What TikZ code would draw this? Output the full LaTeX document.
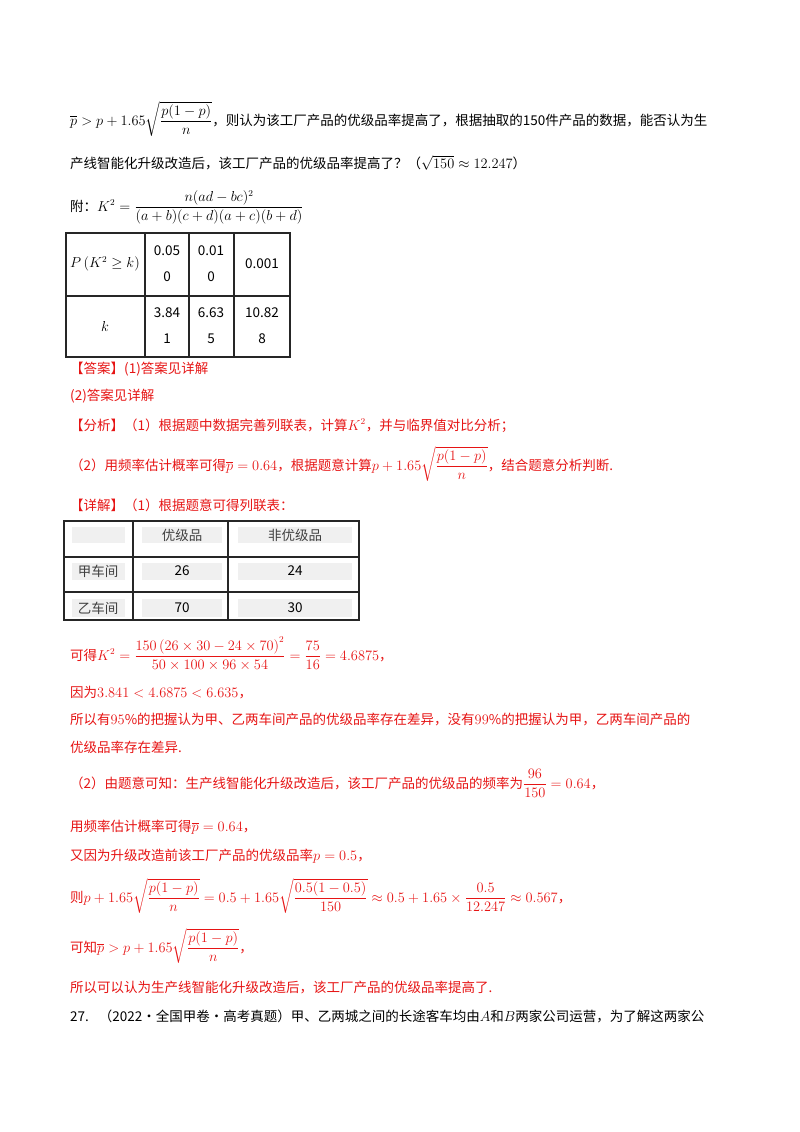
\documentclass[tikz,border=0pt]{standalone}
\usepackage{amsmath}
\usepackage{fontspec}
\setmainfont{Noto Sans CJK SC}
\definecolor{ansred}{RGB}{230,20,20}
\definecolor{cellgray}{RGB}{240,240,240}
\tikzset{txt/.style={anchor=base west,inner sep=0pt,font=\fontsize{13.5}{16}\selectfont},
 red/.style={txt,text=ansred},
 ctr/.style={txt,anchor=center,align=center},
 grid/.style={draw=black!85,line width=1.2pt},
 gcell/.style={fill=cellgray,draw=none}}
\begin{document}
\begin{tikzpicture}[x=1pt,y=-1pt]
\useasboundingbox (0,0) rectangle (800,1132);
\node[txt] (l1) at (70,125) {$\overline{p}>p+1.65\sqrt{\dfrac{p(1-p)}{n}}$，则认为该工厂产品的优级品率提高了，根据抽取的150件产品的数据，能否认为生};
\node[txt] (l2) at (70,168) {产线智能化升级改造后，该工厂产品的优级品率提高了？（$\sqrt{150}\approx12.247$）};
\node[txt] (l3) at (70,211) {附：$K^2=\dfrac{n(ad-bc)^2}{(a+b)(c+d)(a+c)(b+d)}$};
% table 1
\draw[grid] (66,233) rectangle (290,357);
\draw[grid] (66,296) -- (290,296);
\draw[grid] (145,233) -- (145,357);
\draw[grid] (189,233) -- (189,357);
\draw[grid] (234,233) -- (234,357);
\node[ctr] (t11) at (105,264) {$P\left(K^2\geq k\right)$};
\node[ctr] (t12) at (167,264) {0.05\\[10pt]0};
\node[ctr] (t13) at (211,264) {0.01\\[10pt]0};
\node[ctr] (t14) at (262,264) {0.001};
\node[ctr] (t21) at (105,326) {$k$};
\node[ctr] (t22) at (167,326) {3.84\\[10pt]1};
\node[ctr] (t23) at (211,326) {6.63\\[10pt]5};
\node[ctr] (t24) at (262,326) {10.82\\[10pt]8};
\node[red] (a1) at (70,373) {【答案】(1)答案见详解};
\node[red] (a2) at (70,400) {(2)答案见详解};
\node[red] (a3) at (70,430) {【分析】（1）根据题中数据完善列联表，计算$K^2$，并与临界值对比分析；};
\node[red] (a4) at (70,470) {（2）用频率估计概率可得$\overline{p}=0.64$，根据题意计算$p+1.65\sqrt{\dfrac{p(1-p)}{n}}$，结合题意分析判断.};
\node[red] (a5) at (70,510) {【详解】（1）根据题意可得列联表：};
% table 2
\foreach \ya/\yb in {527/543,563/580,599/617}{
  \fill[gcell] (72,\ya) rectangle (125,\yb);
  \fill[gcell] (142,\ya) rectangle (222,\yb);
  \fill[gcell] (238,\ya) rectangle (352,\yb);
}
\draw[grid] (64,521) rectangle (359,620);
\draw[grid] (64,557) -- (359,557);
\draw[grid] (64,592) -- (359,592);
\draw[grid] (133,521) -- (133,620);
\draw[grid] (228,521) -- (228,620);
\node[ctr,text=black!75] (c12) at (182,535) {优级品};
\node[ctr,text=black!75] (c13) at (295,535) {非优级品};
\node[ctr,text=black!75] (c21) at (98,571) {甲车间};
\node[ctr] (c22) at (182,571) {26};
\node[ctr] (c23) at (295,571) {24};
\node[ctr,text=black!75] (c31) at (98,608) {乙车间};
\node[ctr] (c32) at (182,608) {70};
\node[ctr] (c33) at (295,608) {30};
\node[red] (b1) at (70,660) {可得$K^2=\dfrac{150\left(26\times30-24\times70\right)^2}{50\times100\times96\times54}=\dfrac{75}{16}=4.6875$，};
\node[red] (b2) at (70,697) {因为$3.841<4.6875<6.635$，};
\node[red] (b3) at (70,724) {所以有$95\%$的把握认为甲、乙两车间产品的优级品率存在差异，没有$99\%$的把握认为甲，乙两车间产品的};
\node[red] (b4) at (70,752) {优级品率存在差异.};
\node[red] (b5) at (70,788) {（2）由题意可知：生产线智能化升级改造后，该工厂产品的优级品的频率为$\dfrac{96}{150}=0.64$，};
\node[red] (b6) at (70,831) {用频率估计概率可得$\overline{p}=0.64$，};
\node[red] (b7) at (70,860) {又因为升级改造前该工厂产品的优级品率$p=0.5$，};
\node[red] (b8) at (70,902) {则$p+1.65\sqrt{\dfrac{p(1-p)}{n}}=0.5+1.65\sqrt{\dfrac{0.5(1-0.5)}{150}}\approx0.5+1.65\times\dfrac{0.5}{12.247}\approx0.567$，};
\node[red] (b9) at (70,952) {可知$\overline{p}>p+1.65\sqrt{\dfrac{p(1-p)}{n}}$，};
\node[red] (b10) at (70,992) {所以可以认为生产线智能化升级改造后，该工厂产品的优级品率提高了.};
\node[txt] (q27) at (70,1021) {27.\hspace{10pt}（2022·全国甲卷·高考真题）甲、乙两城之间的长途客车均由$A$和$B$两家公司运营，为了解这两家公};
\end{tikzpicture}
\end{document}
